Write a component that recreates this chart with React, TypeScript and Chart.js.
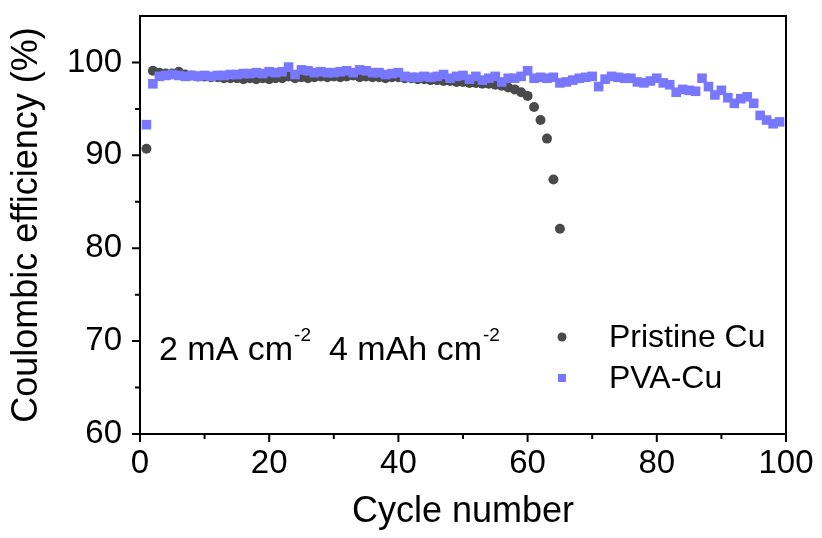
import React, { useEffect, useRef } from 'react';
import { Chart, registerables } from 'chart.js';

Chart.register(...registerables);

// Coulombic efficiency (%) per cycle, cycle numbers start at 1
const PRISTINE_CE = [
  90.7, 99.1, 98.9, 98.8, 98.8, 99.0, 98.7, 98.6, 98.5, 98.5,
  98.4, 98.4, 98.3, 98.3, 98.3, 98.2, 98.3, 98.2, 98.3, 98.2,
  98.3, 98.3, 98.5, 98.3, 98.4, 98.3, 98.4, 98.5, 98.4, 98.5,
  98.4, 98.5, 98.6, 98.4, 98.5, 98.4, 98.4, 98.3, 98.4, 98.4,
  98.3, 98.3, 98.2, 98.2, 98.1, 98.1, 98.0, 98.0, 97.9, 97.9,
  97.8, 97.8, 97.7, 97.7, 97.6, 97.5, 97.3, 97.1, 96.8, 96.4,
  95.2, 93.8, 91.8, 87.4, 82.1,
];

const PVA_CE = [
  93.3, 97.7, 98.5, 98.6, 98.7, 98.6, 98.5, 98.6, 98.5, 98.6,
  98.5, 98.6, 98.6, 98.7, 98.7, 98.8, 98.8, 98.9, 98.8, 99.0,
  98.9, 99.0, 99.5, 98.7, 99.2, 99.1, 98.9, 99.0, 98.9, 98.9,
  99.0, 99.1, 98.9, 99.2, 99.1, 98.9, 98.9, 98.7, 98.8, 98.9,
  98.5, 98.4, 98.4, 98.5, 98.4, 98.5, 98.7, 98.3, 98.5, 98.6,
  98.2, 98.5, 98.1, 98.3, 98.5, 97.9, 98.3, 98.3, 98.5, 99.1,
  98.3, 98.4, 98.3, 98.4, 97.8, 97.9, 98.1, 98.3, 98.4, 98.5,
  97.4, 98.2, 98.5, 98.4, 98.3, 98.3, 97.9, 97.8, 98.0, 98.3,
  97.8, 97.6, 96.8, 97.1, 97.0, 96.9, 98.3, 97.4, 96.5, 97.0,
  96.2, 95.6, 96.1, 96.3, 95.6, 94.3, 93.8, 93.4, 93.6,
];

const SERIES_NAMES = ['Pristine Cu', 'PVA-Cu'];
const X_TICKS = [0, 20, 40, 60, 80, 100];
const X_MINOR = [10, 30, 50, 70, 90];
const Y_TICKS = [60, 70, 80, 90, 100];
const Y_MINOR = [65, 75, 85, 95];
const ANNOTATION = [
  { text: '2 mA cm', sup: '-2' },
  { text: '4 mAh cm', sup: '-2' },
];

const FONT = '"Liberation Sans", Arial, Helvetica, sans-serif';
const GRAY = '#4a4a4a';
const BLUE = '#7878ff';

const decorPlugin = {
  id: 'decor',
  afterDraw(chart: any) {
    const { ctx, chartArea: a, scales } = chart;
    const x = scales.x;
    const y = scales.y;
    ctx.save();
    ctx.strokeStyle = '#000';
    ctx.lineWidth = 2;
    // top and right frame
    ctx.beginPath();
    ctx.moveTo(a.left - 1, a.top);
    ctx.lineTo(a.right, a.top);
    ctx.lineTo(a.right, a.bottom + 1);
    ctx.stroke();
    // ticks
    ctx.beginPath();
    X_TICKS.forEach((v) => {
      const p = x.getPixelForValue(v);
      ctx.moveTo(p, a.bottom);
      ctx.lineTo(p, a.bottom + 8);
    });
    X_MINOR.forEach((v) => {
      const p = x.getPixelForValue(v);
      ctx.moveTo(p, a.bottom);
      ctx.lineTo(p, a.bottom + 5);
    });
    Y_TICKS.forEach((v) => {
      const p = y.getPixelForValue(v);
      ctx.moveTo(a.left, p);
      ctx.lineTo(a.left - 8, p);
    });
    Y_MINOR.forEach((v) => {
      const p = y.getPixelForValue(v);
      ctx.moveTo(a.left, p);
      ctx.lineTo(a.left - 5, p);
    });
    ctx.stroke();

    // annotation text with superscripts
    ctx.fillStyle = '#000';
    ctx.textBaseline = 'alphabetic';
    ctx.textAlign = 'left';
    const starts = [a.left + 19, a.left + 189];
    ANNOTATION.forEach((item, i) => {
      let cx = starts[i];
      const base = a.top + 344;
      ctx.font = `34px ${FONT}`;
      ctx.fillText(item.text, cx, base);
      cx += ctx.measureText(item.text).width + 1;
      ctx.font = `19px ${FONT}`;
      ctx.fillText(item.sup, cx, base - 19);
    });

    // legend
    const lx = a.left + 422;
    const rows = [a.top + 321, a.top + 362];
    ctx.font = `32px ${FONT}`;
    ctx.textBaseline = 'middle';
    ctx.fillStyle = GRAY;
    ctx.beginPath();
    ctx.arc(lx, rows[0], 4.5, 0, Math.PI * 2);
    ctx.fill();
    ctx.fillStyle = BLUE;
    ctx.fillRect(lx - 4, rows[1] - 4, 8, 8);
    ctx.fillStyle = '#000';
    ctx.fillText(SERIES_NAMES[0], lx + 47, rows[0] + 1);
    ctx.fillText(SERIES_NAMES[1], lx + 47, rows[1] + 1);
    ctx.restore();
  },
};

export default function App() {
  const ref = useRef<HTMLCanvasElement | null>(null);

  useEffect(() => {
    if (!ref.current) return;
    const chart = new Chart(ref.current, {
      type: 'scatter',
      data: {
        datasets: [
          {
            label: SERIES_NAMES[0],
            data: PRISTINE_CE.map((v, i) => ({ x: i + 1, y: v })),
            pointStyle: 'circle',
            pointRadius: 5,
            backgroundColor: GRAY,
            borderWidth: 0,
            order: 1,
          },
          {
            label: SERIES_NAMES[1],
            data: PVA_CE.map((v, i) => ({ x: i + 1, y: v })),
            pointStyle: 'rect',
            pointRadius: 6.8,
            backgroundColor: BLUE,
            borderWidth: 0,
            order: 0,
          },
        ],
      },
      options: {
        animation: false,
        responsive: false,
        maintainAspectRatio: false,
        layout: { padding: { top: 16, right: 36, left: 0, bottom: 0 } },
        plugins: { legend: { display: false }, tooltip: { enabled: false } },
        scales: {
          x: {
            type: 'linear',
            min: 0,
            max: 100,
            afterBuildTicks: (s: any) => {
              s.ticks = X_TICKS.map((v) => ({ value: v }));
            },
            afterFit: (s: any) => {
              s.height = 104;
              s.paddingLeft = 0;
              s.paddingRight = 0;
            },
            grid: { display: false, drawTicks: false },
            border: { display: true, color: '#000', width: 2 },
            ticks: {
              color: '#000',
              font: { family: FONT, size: 33 },
              padding: 10,
              maxRotation: 0,
              autoSkip: false,
            },
            title: {
              display: true,
              text: 'Cycle number',
              color: '#000',
              font: { family: FONT, size: 36 },
              padding: { top: 0, bottom: 4 },
            },
          },
          y: {
            type: 'linear',
            min: 60,
            max: 105,
            afterBuildTicks: (s: any) => {
              s.ticks = Y_TICKS.map((v) => ({ value: v }));
            },
            afterFit: (s: any) => {
              s.width = 140;
              s.paddingTop = 0;
              s.paddingBottom = 0;
            },
            grid: { display: false, drawTicks: false },
            border: { display: true, color: '#000', width: 2 },
            ticks: {
              color: '#000',
              font: { family: FONT, size: 33 },
              padding: 18,
              autoSkip: false,
            },
            title: {
              display: true,
              text: 'Coulombic efficiency (%)',
              color: '#000',
              font: { family: FONT, size: 36 },
              padding: { top: 5, bottom: 0 },
            },
          },
        },
      },
      plugins: [decorPlugin],
    });
    return () => chart.destroy();
  }, []);

  return (
    <div style={{ position: 'absolute', left: 0, top: 0, width: 822, height: 538, background: '#fff' }}>
      <canvas ref={ref} width={822} height={538} style={{ display: 'block' }} />
    </div>
  );
}
